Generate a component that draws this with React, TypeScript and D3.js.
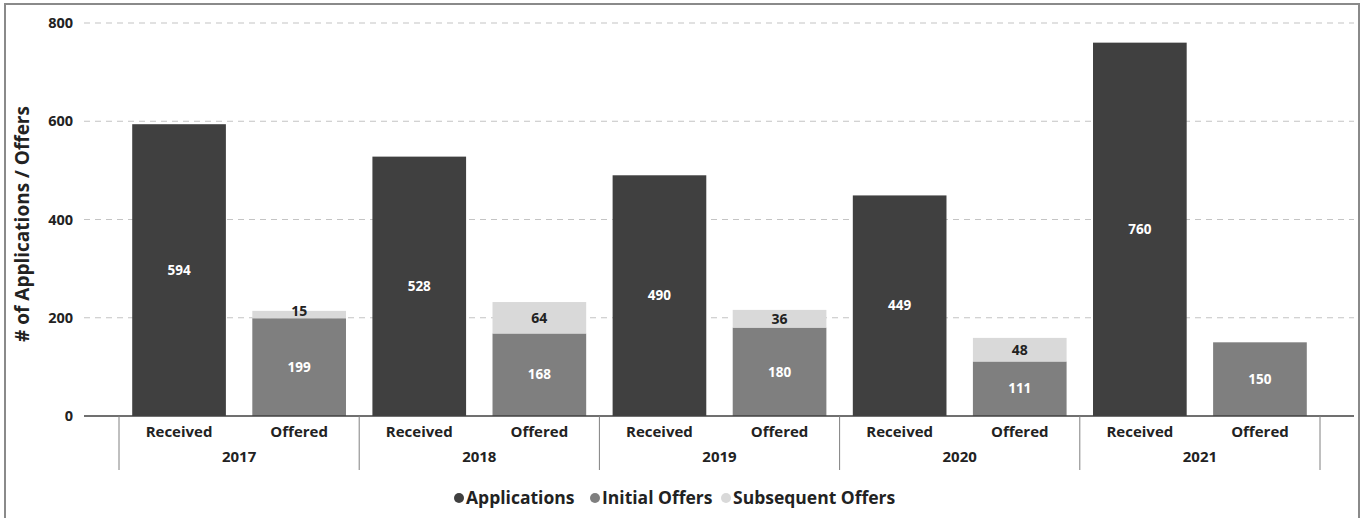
import * as d3 from 'd3';

const years = ['2017', '2018', '2019', '2020', '2021'];
const subCats = ['Received', 'Offered'];
const applications = [594, 528, 490, 449, 760];
const initialOffers = [199, 168, 180, 111, 150];
const subsequentOffers = [15, 64, 36, 48, 0];
const yTicks = [0, 200, 400, 600, 800];
const legendItems = [
  { label: 'Applications', color: '#404040' },
  { label: 'Initial Offers', color: '#7f7f7f' },
  { label: 'Subsequent Offers', color: '#d9d9d9' },
];

const FONT = '"Open Sans", "Noto Sans", sans-serif';

export default function App() {
  const width = 1364;
  const height = 518;

  const y = d3.scaleLinear().domain([0, 800]).range([416, 23]);
  const xGroup = d3.scaleBand<string>().domain(years).range([119, 1320]).padding(0);
  const xSub = d3.scaleBand<string>()
    .domain(subCats)
    .range([0, xGroup.bandwidth()])
    .paddingInner(0.22)
    .paddingOuter(0.11);

  const bw = xSub.bandwidth();
  const legendX = [459, 595, 726];

  return (
    <svg
      width={width}
      height={height}
      style={{ position: 'absolute', left: 0, top: 0, background: '#fff' }}
      fontFamily={FONT}
    >
      {/* frame */}
      <path d={`M5,${height} V4 H1359 V${height}`} fill="none" stroke="#8a8a8a" strokeWidth={2} />

      {/* gridlines */}
      {yTicks.filter(t => t > 0).map(t => (
        <line key={t} x1={84} x2={1354} y1={y(t)} y2={y(t)}
          stroke="#c4c4c4" strokeWidth={1.2} strokeDasharray="6,5" />
      ))}
      {yTicks.map(t => (
        <text key={'l' + t} x={73} y={y(t)} dy="0.35em" textAnchor="end"
          fontSize={14.5} fontWeight={700} fill="#222">{t}</text>
      ))}

      {/* y title */}
      <text transform="translate(22,224) rotate(-90)" textAnchor="middle" dy="0.35em"
        fontSize={19} fontWeight={700} fill="#222">
        # of Applications / Offers
      </text>

      {/* bars */}
      {years.map((yr, i) => {
        const gx = xGroup(yr) || 0;
        const rx = gx + (xSub('Received') || 0);
        const ox = gx + (xSub('Offered') || 0);
        const a = applications[i];
        const io = initialOffers[i];
        const so = subsequentOffers[i];
        return (
          <g key={yr}>
            <rect x={rx} y={y(a)} width={bw} height={y(0) - y(a)} fill="#404040" />
            <text x={rx + bw / 2} y={(y(a) + y(0)) / 2} dy="0.35em" textAnchor="middle"
              fontSize={13.5} fontWeight={700} fill="#fff">{a}</text>
            <rect x={ox} y={y(io)} width={bw} height={y(0) - y(io)} fill="#7f7f7f" />
            <text x={ox + bw / 2} y={(y(io) + y(0)) / 2} dy="0.35em" textAnchor="middle"
              fontSize={13.5} fontWeight={700} fill="#fff">{io}</text>
            {so > 0 && (
              <>
                <rect x={ox} y={y(io + so)} width={bw} height={y(io) - y(io + so)} fill="#d9d9d9" />
                <text x={ox + bw / 2} y={(y(io + so) + y(io)) / 2 - (so < 25 ? 3 : 0)} dy="0.35em"
                  textAnchor="middle" fontSize={14} fontWeight={700} fill="#222">{so}</text>
              </>
            )}
          </g>
        );
      })}

      {/* x axis */}
      <line x1={84} x2={1354} y1={y(0)} y2={y(0)} stroke="#404040" strokeWidth={1.5} />
      {years.map(yr => (
        <line key={'d' + yr} x1={xGroup(yr)} x2={xGroup(yr)} y1={y(0)} y2={470}
          stroke="#808080" strokeWidth={1} />
      ))}
      <line x1={1320} x2={1320} y1={y(0)} y2={470} stroke="#808080" strokeWidth={1} />
      {years.map(yr => {
        const gx = xGroup(yr) || 0;
        return (
          <g key={'t' + yr}>
            {subCats.map(s => (
              <text key={s} x={gx + (xSub(s) || 0) + bw / 2} y={432} dy="0.35em" textAnchor="middle"
                fontSize={15} fontWeight={700} fill="#222">{s}</text>
            ))}
            <text x={gx + xGroup.bandwidth() / 2} y={457} dy="0.35em" textAnchor="middle"
              fontSize={15} fontWeight={700} fill="#222">{yr}</text>
          </g>
        );
      })}

      {/* legend */}
      {legendItems.map((d, i) => (
        <g key={d.label} transform={`translate(${legendX[i]},498)`}>
          <circle cx={0} cy={0} r={5} fill={d.color} />
          <text x={7} y={0} dy="0.35em" fontSize={17.5} fontWeight={700} fill="#222">{d.label}</text>
        </g>
      ))}
    </svg>
  );
}
